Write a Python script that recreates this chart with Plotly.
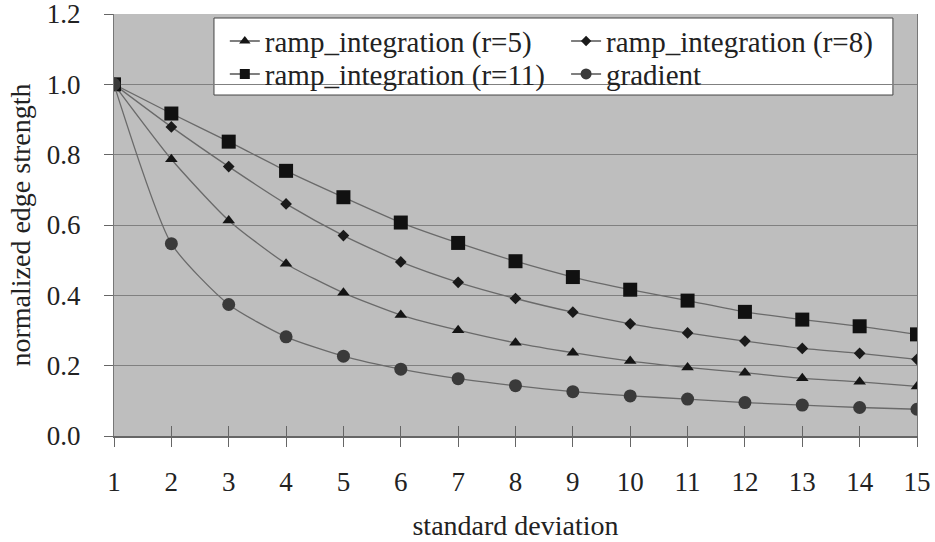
import plotly.graph_objects as go

std_dev = list(range(1, 16))
ramp_r5 = [1.0, 0.787, 0.613, 0.490, 0.407, 0.344, 0.301, 0.265, 0.237, 0.213, 0.195, 0.180, 0.164, 0.154, 0.141]
ramp_r8 = [1.0, 0.879, 0.766, 0.660, 0.570, 0.495, 0.437, 0.391, 0.352, 0.319, 0.293, 0.270, 0.249, 0.235, 0.218]
ramp_r11 = [1.0, 0.917, 0.837, 0.754, 0.679, 0.607, 0.549, 0.497, 0.452, 0.416, 0.385, 0.353, 0.331, 0.312, 0.289]
gradient = [1.0, 0.547, 0.374, 0.282, 0.227, 0.190, 0.163, 0.143, 0.126, 0.114, 0.105, 0.095, 0.088, 0.081, 0.076]

y_ticks = [0.0, 0.2, 0.4, 0.6, 0.8, 1.0, 1.2]

# name, values, symbol, plot size, legend size, colour, legend slot
series = [
    ("ramp_integration (r=5)", ramp_r5, "triangle-up", 11, 10, "#151515", "legend"),
    ("ramp_integration (r=8)", ramp_r8, "diamond", 9, 8, "#1a1a1a", "legend2"),
    ("ramp_integration (r=11)", ramp_r11, "square", 14, 10, "#111111", "legend3"),
    ("gradient", gradient, "circle", 13, 11, "#3a3a3a", "legend4"),
]

FONT = "Liberation Serif"
TXT = "#222222"
LINE = "#6a6a6a"
TICK = "#666666"

fig = go.Figure()
for name, vals, sym, size, lsize, col, leg in series:
    fig.add_trace(go.Scatter(
        x=std_dev, y=vals, name=name, mode="lines+markers", showlegend=False,
        line=dict(color=LINE, width=1.3, shape="spline", smoothing=0.6),
        marker=dict(symbol=sym, size=size, color=col, line=dict(width=0)),
    ))
# legend entries (thin line + small marker, as in the reference legend);
# drawn on a hidden overlay axis whose range keeps them out of view
for name, vals, sym, size, lsize, col, leg in series:
    fig.add_trace(go.Scatter(
        x=std_dev, y=vals, name=name, mode="lines+markers", legend=leg,
        xaxis="x3", yaxis="y3", hoverinfo="skip",
        line=dict(color="#555555", width=1.5),
        marker=dict(symbol=sym, size=lsize, color=col, line=dict(width=0)),
    ))

# helper invisible trace for the inside half of the crossing x ticks
fig.add_trace(go.Scatter(x=std_dev, y=[0]*len(std_dev), xaxis="x2", yaxis="y", mode="markers",
                         marker=dict(opacity=0), showlegend=False, hoverinfo="skip"))

legend_common = dict(
    orientation="v", xanchor="left", yanchor="top",
    bgcolor="rgba(0,0,0,0)", borderwidth=0,
    font=dict(family=FONT, size=29, color=TXT),
    tracegroupgap=0,
)
col1, col2 = 0.138, 0.563
row1, row2 = 0.996, 0.918

fig.update_layout(
    width=935, height=542,
    margin=dict(l=114, r=18, t=14, b=106, autoexpand=False),
    paper_bgcolor="white",
    plot_bgcolor="#bebebe",
    font=dict(family=FONT, size=27, color=TXT),
    showlegend=True,
    legend=dict(x=col1, y=row1, **legend_common),
    legend2=dict(x=col2, y=row1, **legend_common),
    legend3=dict(x=col1, y=row2, **legend_common),
    legend4=dict(x=col2, y=row2, **legend_common),
    shapes=[dict(type="rect", xref="paper", yref="paper",
                 x0=0.1245, x1=0.970, y0=0.808, y1=0.9905,
                 line=dict(color="#444444", width=1), fillcolor="white", layer="below")],
    xaxis=dict(
        range=[1, 15], tickmode="array", tickvals=std_dev,
        ticktext=[str(v) for v in std_dev],
        ticks="outside", ticklen=9, tickcolor=TICK, tickwidth=1,
        ticklabelstandoff=12, automargin=False,
        showgrid=False, zeroline=False,
        showline=True, linecolor="#666666", linewidth=1.5, mirror=False,
        tickfont=dict(family=FONT, size=27, color=TXT),
        title=dict(text="standard deviation", font=dict(family=FONT, size=28, color=TXT), standoff=19),
    ),
    xaxis2=dict(
        range=[1, 15], overlaying="x", side="bottom", tickmode="array", tickvals=std_dev,
        ticks="inside", ticklen=10, tickcolor=TICK, tickwidth=1, automargin=False,
        showticklabels=False, showgrid=False, zeroline=False, showline=False,
    ),
    xaxis3=dict(overlaying="x", range=[100, 101], visible=False, automargin=False),
    yaxis3=dict(overlaying="y", range=[100, 101], visible=False, automargin=False),
    yaxis=dict(
        range=[0, 1.2], tickmode="array", tickvals=y_ticks,
        ticktext=[f"{v:.1f}" for v in y_ticks],
        ticks="outside", ticklen=9, tickcolor=TICK, automargin=False,
        ticklabeloverflow="allow", ticklabelstandoff=18,
        showgrid=True, gridcolor="#808080", gridwidth=1.3,
        zeroline=False, showline=True, linecolor="#777777", linewidth=1, mirror=True,
        tickfont=dict(family=FONT, size=27, color=TXT),
        title=dict(text="normalized edge strength", font=dict(family=FONT, size=28, color=TXT), standoff=8),
    ),
)

fig.write_html("out.html")
